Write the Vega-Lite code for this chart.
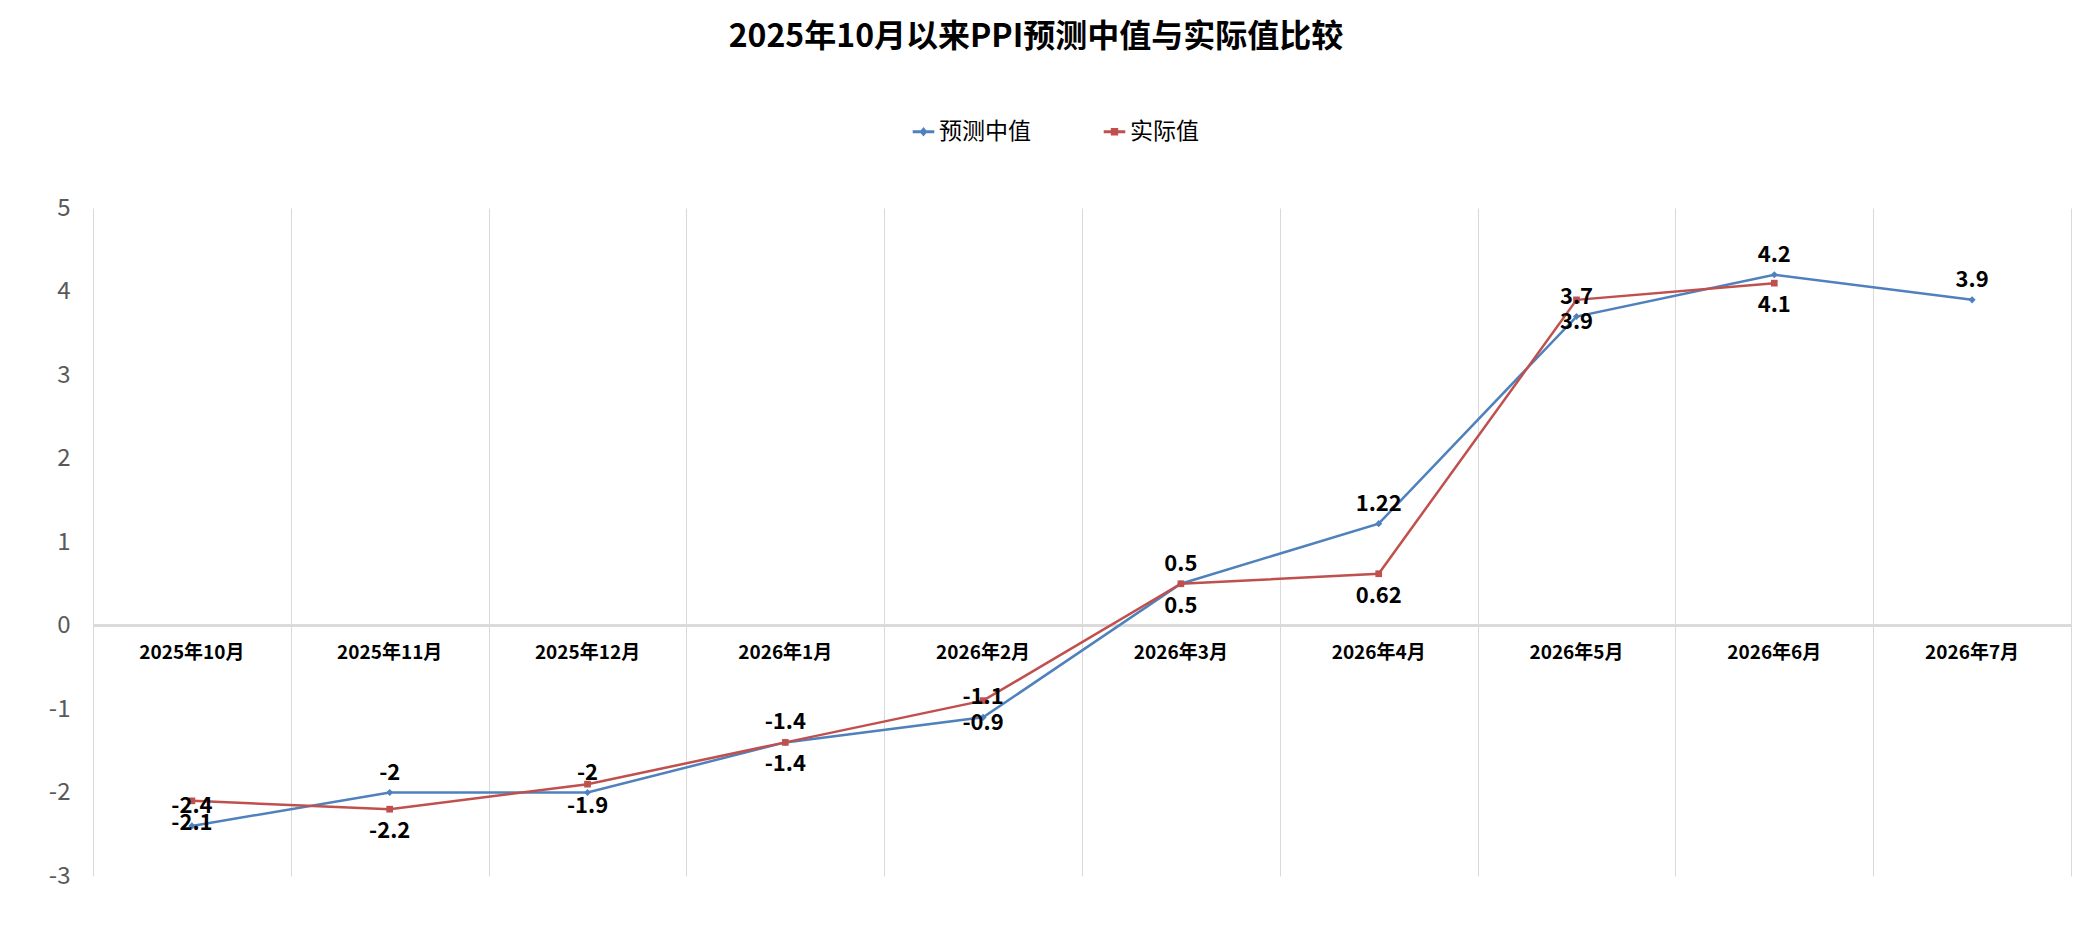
{
  "$schema": "https://vega.github.io/schema/vega-lite/v6.json",
  "autosize": "none",
  "padding": {"left": 93, "top": 208, "right": 7, "bottom": 54},
  "width": 1978,
  "height": 668,
  "background": "white",
  "title": {
    "text": "2025年10月以来PPI预测中值与实际值比较",
    "font": "Noto Sans CJK SC",
    "fontSize": 32,
    "fontWeight": "bold",
    "color": "#000000",
    "anchor": "middle",
    "frame": "group",
    "dx": -46,
    "offset": 66
  },
  "config": {
    "view": {"stroke": null},
    "font": "Noto Sans CJK SC"
  },
  "data": {
    "values": [
      {"month": "2025年10月", "series": "预测中值", "value": -2.4},
      {"month": "2025年11月", "series": "预测中值", "value": -2},
      {"month": "2025年12月", "series": "预测中值", "value": -2},
      {"month": "2026年1月", "series": "预测中值", "value": -1.4},
      {"month": "2026年2月", "series": "预测中值", "value": -1.1},
      {"month": "2026年3月", "series": "预测中值", "value": 0.5},
      {"month": "2026年4月", "series": "预测中值", "value": 1.22},
      {"month": "2026年5月", "series": "预测中值", "value": 3.7},
      {"month": "2026年6月", "series": "预测中值", "value": 4.2},
      {"month": "2026年7月", "series": "预测中值", "value": 3.9},
      {"month": "2025年10月", "series": "实际值", "value": -2.1},
      {"month": "2025年11月", "series": "实际值", "value": -2.2},
      {"month": "2025年12月", "series": "实际值", "value": -1.9},
      {"month": "2026年1月", "series": "实际值", "value": -1.4},
      {"month": "2026年2月", "series": "实际值", "value": -0.9},
      {"month": "2026年3月", "series": "实际值", "value": 0.5},
      {"month": "2026年4月", "series": "实际值", "value": 0.62},
      {"month": "2026年5月", "series": "实际值", "value": 3.9},
      {"month": "2026年6月", "series": "实际值", "value": 4.1}
    ]
  },
  "encoding": {
    "x": {
      "field": "month",
      "type": "nominal",
      "sort": null,
      "scale": {"type": "band", "paddingInner": 0, "paddingOuter": 0},
      "axis": {
        "title": null,
        "labels": false,
        "ticks": false,
        "domain": false,
        "grid": true,
        "tickBand": "extent",
        "gridColor": "#D9D9D9",
        "gridWidth": 1
      }
    },
    "y": {
      "field": "value",
      "type": "quantitative",
      "scale": {"domain": [-3, 5], "nice": false, "zero": false},
      "axis": {
        "title": null,
        "values": [-3, -2, -1, 0, 1, 2, 3, 4, 5],
        "labelExpr": "'' + datum.value",
        "grid": false,
        "domain": false,
        "ticks": false,
        "labelPadding": 23,
        "labelFontSize": 24,
        "labelColor": "#595959",
        "labelFont": "Noto Sans CJK SC"
      }
    },
    "color": {
      "field": "series",
      "type": "nominal",
      "sort": null,
      "scale": {"domain": ["预测中值", "实际值"], "range": ["#4F81BD", "#C0504D"]},
      "legend": {
        "title": null,
        "orient": "none",
        "direction": "horizontal",
        "legendX": 819,
        "legendY": -88,
        "padding": 0,
        "columnPadding": 70,
        "labelFontSize": 23,
        "labelColor": "#000000",
        "labelFont": "Noto Sans CJK SC",
        "labelOffset": 4,
        "symbolSize": 280,
        "symbolType": "M-1.2,-0.1H1.2V0.1H-1.2Z M0,-0.42L0.36,0L0,0.42L-0.36,0Z",
        "encode": {
          "symbols": {
            "update": {
              "shape": {"signal": "datum.value === '实际值' ? 'M-1.2,-0.1H1.2V0.1H-1.2Z M-0.35,-0.35H0.35V0.35H-0.35Z' : 'M-1.2,-0.1H1.2V0.1H-1.2Z M0,-0.42L0.36,0L0,0.42L-0.36,0Z'"}
            }
          }
        }
      }
    }
  },
  "layer": [
    {
      "mark": {"type": "rule", "color": "#D9D9D9", "strokeWidth": 1.5},
      "encoding": {"y": {"datum": 0}, "x": null, "color": null}
    },
    {
      "transform": [{"filter": "datum.series === '预测中值'"}],
      "mark": {"type": "text", "baseline": "middle", "align": "center", "dy": 27, "fontSize": 19, "fontWeight": "bold", "color": "#000000"},
      "encoding": {
        "y": {"datum": 0},
        "color": null,
        "text": {"field": "month", "type": "nominal"}
      }
    },
    {
      "mark": {"type": "line", "strokeWidth": 2.5}
    },
    {
      "transform": [{"filter": "datum.series === '预测中值'"}],
      "mark": {"type": "point", "filled": true, "opacity": 1, "shape": "diamond", "size": 50}
    },
    {
      "transform": [{"filter": "datum.series === '实际值'"}],
      "mark": {"type": "point", "filled": true, "opacity": 1, "shape": "square", "size": 45}
    },
    {
      "transform": [{"filter": "datum.series === '预测中值'"}],
      "mark": {"type": "text", "baseline": "middle", "align": "center", "dy": -20, "fontSize": 22, "fontWeight": "bold", "color": "#000000"},
      "encoding": {"color": null, "text": {"field": "value", "type": "nominal"}}
    },
    {
      "transform": [{"filter": "datum.series === '实际值'"}],
      "mark": {"type": "text", "baseline": "middle", "align": "center", "dy": 22, "fontSize": 22, "fontWeight": "bold", "color": "#000000"},
      "encoding": {"color": null, "text": {"field": "value", "type": "nominal"}}
    }
  ]
}
